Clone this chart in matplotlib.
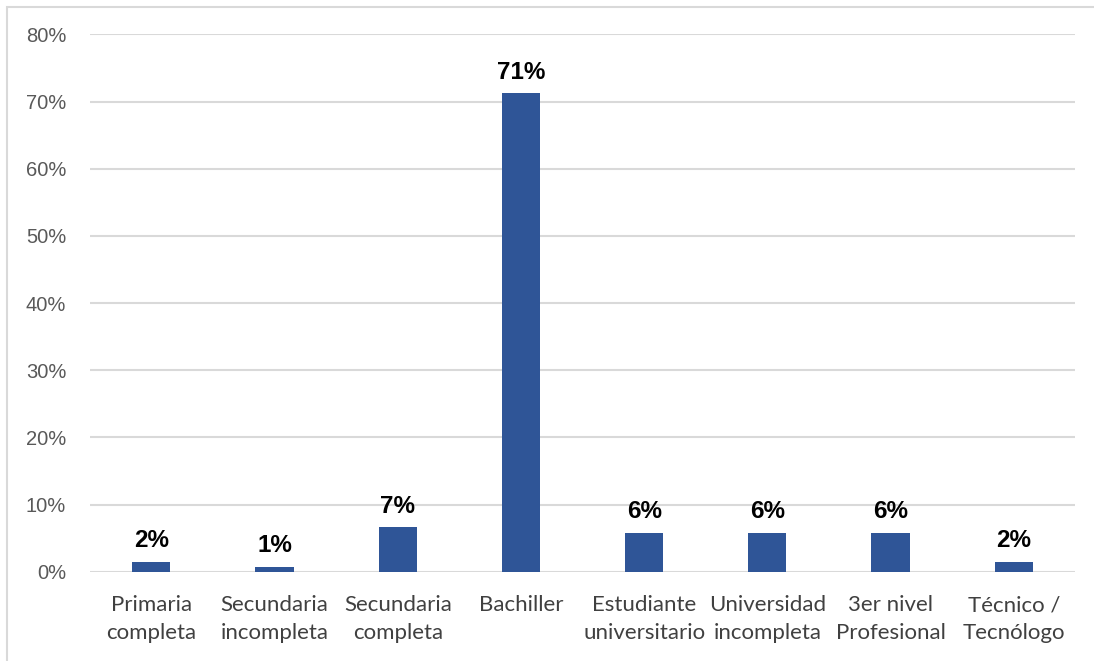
import matplotlib.pyplot as plt
from matplotlib.patches import Rectangle

categorias = ["Primaria\ncompleta", "Secundaria\nincompleta", "Secundaria\ncompleta",
              "Bachiller", "Estudiante\nuniversitario", "Universidad\nincompleta",
              "3er nivel\nProfesional", "Técnico /\nTecnólogo"]
porcentajes = [1.5, 0.7, 6.6, 71.2, 5.8, 5.8, 5.8, 1.5]
yticks = [0, 10, 20, 30, 40, 50, 60, 70, 80]

azul = "#2F5597"

fig = plt.figure(figsize=(10.94, 6.61), dpi=100)
ax = fig.add_axes([0.082, 0.135, 0.901, 0.813])

x = range(len(categorias))
barras = ax.bar(x, porcentajes, width=0.31, color=azul, zorder=3)

for b, v in zip(barras, porcentajes):
    ax.annotate(f"{v:.0f}%", (b.get_x() + b.get_width() / 2, v),
                xytext=(0, 7), textcoords="offset points", ha="center", va="bottom",
                fontsize=17.5, fontweight="bold", family="Liberation Sans", color="black")

ax.set_xlim(-0.5, len(categorias) - 0.5)
ax.set_ylim(0, 80)
ax.set_yticks(yticks)
ax.set_yticklabels([f"{t}%" for t in yticks], family="Liberation Sans", fontsize=14.5, color="#595959")
ax.set_xticks(list(x))
ax.set_xticklabels(categorias, family="Lato", fontsize=16, color="#404040", linespacing=1.45)
ax.tick_params(axis="both", length=0)
ax.tick_params(axis="y", pad=17)
ax.tick_params(axis="x", pad=17)

ax.grid(axis="y", color="#d9d9d9", linewidth=1.5, zorder=0)
for s in ax.spines.values():
    s.set_visible(False)

# marco del área del gráfico
fig.patches.append(Rectangle((7 / 1094, -0.01), 1.1, 1 - 7 / 661 + 0.01, transform=fig.transFigure,
                             fill=False, edgecolor="#d9d9d9", linewidth=1.5))

plt.savefig("out.png", dpi=100)
